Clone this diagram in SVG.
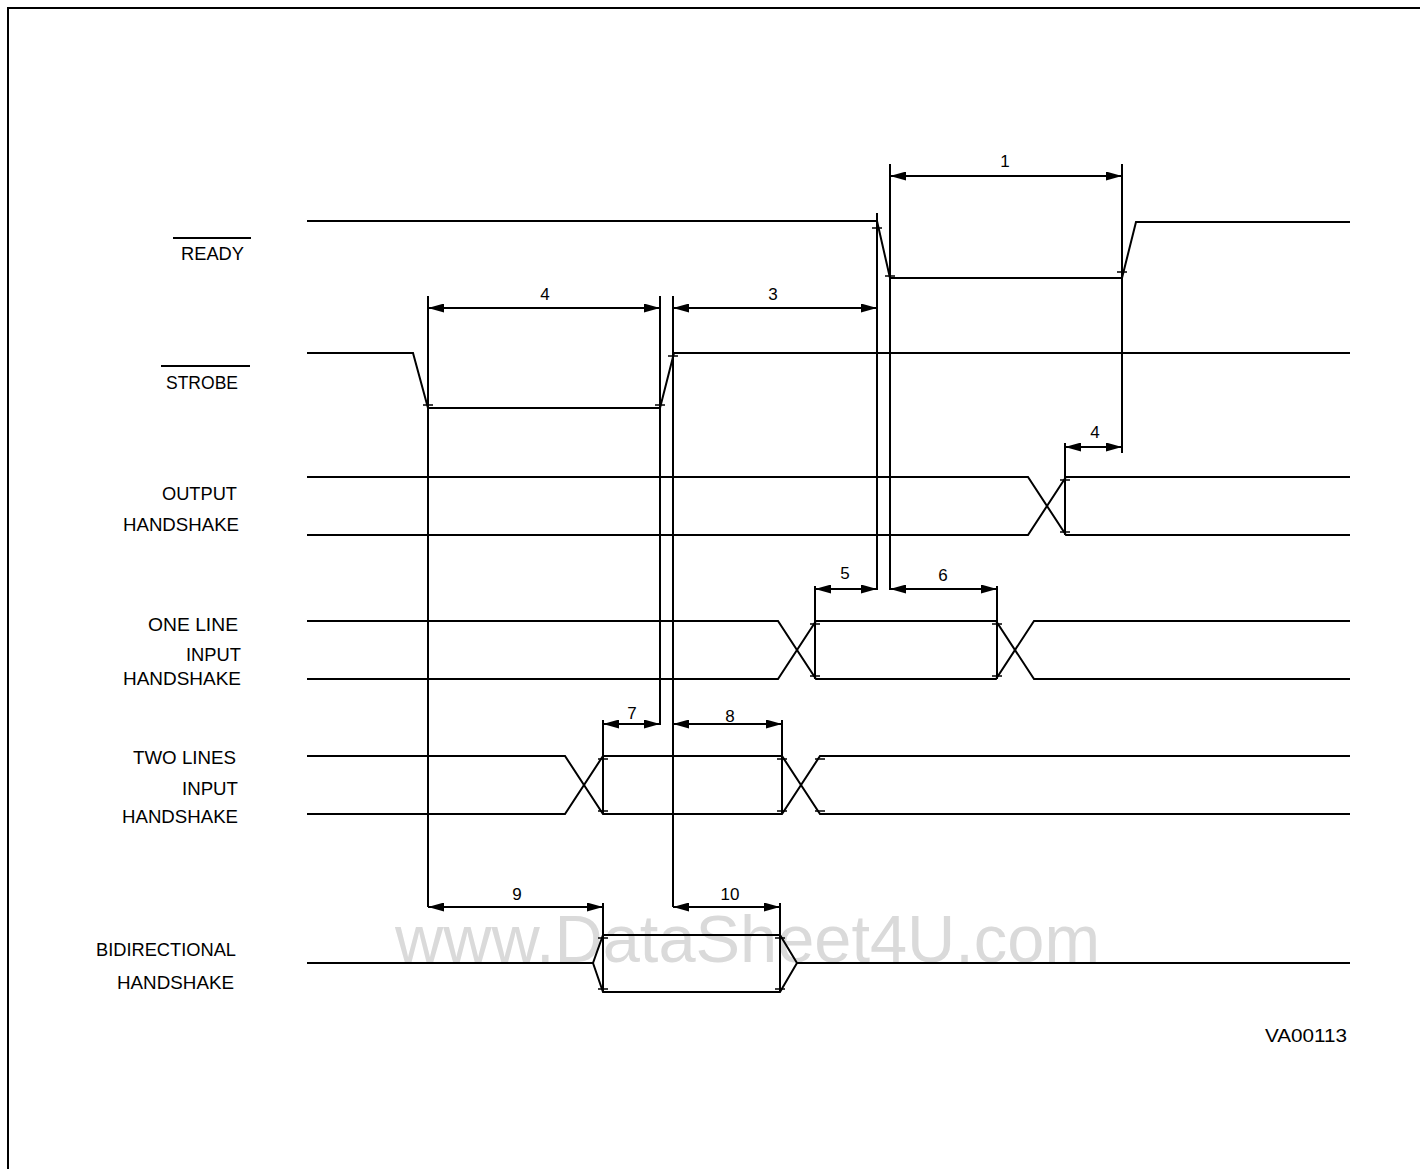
<svg xmlns="http://www.w3.org/2000/svg" width="1420" height="1169" viewBox="0 0 1420 1169">
<style>
.sig{fill:none;stroke:#000;stroke-width:2;stroke-linejoin:miter}
.ext{fill:none;stroke:#000;stroke-width:2}
.dim{fill:none;stroke:#000;stroke-width:2;marker-start:url(#ah);marker-end:url(#ah)}
.tick{fill:none;stroke:#000;stroke-width:1.5}
.lbl{font-family:"Liberation Sans",Arial,sans-serif;font-size:18px;fill:#000;text-anchor:end}
.num{font-family:"Liberation Sans",Arial,sans-serif;font-size:17px;fill:#000;text-anchor:middle}
.wm{font-family:"Liberation Sans",Arial,sans-serif;font-size:66px;fill:#dadada}
</style>
<defs>
<marker id="ah" viewBox="0 0 16 9" refX="16" refY="4.5" markerWidth="16" markerHeight="9" markerUnits="userSpaceOnUse" orient="auto-start-reverse">
<path d="M0,0 L16,4.5 L0,9 z" fill="#000"/>
</marker>
</defs>
<rect width="1420" height="1169" fill="#fff"/>
<g id="frame">
<path d="M8,1169 V8 H1420" fill="none" stroke="#000" stroke-width="2"/>
</g>
<text class="wm" x="395" y="962" textLength="705" lengthAdjust="spacingAndGlyphs">www.DataSheet4U.com</text>

<g id="ready">
<text class="lbl" x="244" y="260" textLength="63" lengthAdjust="spacingAndGlyphs">READY</text>
<line x1="173" y1="238" x2="251" y2="238" stroke="#000" stroke-width="2"/>
<path class="sig" d="M307,221 H877 L890,278 H1122 L1136,222 H1350"/>
</g>
<g id="strobe">
<text class="lbl" x="238" y="389" textLength="72" lengthAdjust="spacingAndGlyphs">STROBE</text>
<line x1="161" y1="366" x2="250" y2="366" stroke="#000" stroke-width="2"/>
<path class="sig" d="M307,353 H413 L428,408 H660 L674,353 H1350"/>
</g>
<g id="output-handshake">
<text class="lbl" x="237" y="500" textLength="75" lengthAdjust="spacingAndGlyphs">OUTPUT</text>
<text class="lbl" x="239" y="531" textLength="116" lengthAdjust="spacingAndGlyphs">HANDSHAKE</text>
<path class="sig" d="M307,477 H1028 L1066,535 H1350"/>
<path class="sig" d="M307,535 H1028 L1066,477 H1350"/>
</g>
<g id="one-line-input-handshake">
<text class="lbl" x="238" y="631" textLength="90" lengthAdjust="spacingAndGlyphs">ONE LINE</text>
<text class="lbl" x="241" y="661" textLength="55" lengthAdjust="spacingAndGlyphs">INPUT</text>
<text class="lbl" x="241" y="685" textLength="118" lengthAdjust="spacingAndGlyphs">HANDSHAKE</text>
<path class="sig" d="M307,621 H778 L816,679 H996 L1034,621 H1350"/>
<path class="sig" d="M307,679 H778 L816,621 H996 L1034,679 H1350"/>
</g>
<g id="two-lines-input-handshake">
<text class="lbl" x="236" y="764" textLength="103" lengthAdjust="spacingAndGlyphs">TWO LINES</text>
<text class="lbl" x="238" y="795" textLength="56" lengthAdjust="spacingAndGlyphs">INPUT</text>
<text class="lbl" x="238" y="823" textLength="116" lengthAdjust="spacingAndGlyphs">HANDSHAKE</text>
<path class="sig" d="M307,756 H565 L603,814 H782 L820,756 H1350"/>
<path class="sig" d="M307,814 H565 L603,756 H782 L820,814 H1350"/>
</g>
<g id="bidirectional-handshake">
<text class="lbl" x="236" y="956" textLength="140" lengthAdjust="spacingAndGlyphs">BIDIRECTIONAL</text>
<text class="lbl" x="234" y="989" textLength="117" lengthAdjust="spacingAndGlyphs">HANDSHAKE</text>
<path class="sig" d="M307,963 H593 L603,935 H780 L797,963 H1350"/>
<path class="sig" d="M593,963 L603,992 H780 L797,963"/>
</g>
<g id="ref">
<text class="lbl" x="1347" y="1042" textLength="82" lengthAdjust="spacingAndGlyphs">VA00113</text>
</g>

<g id="connectors">
<g id="extension-lines">
<line class="ext" x1="877" y1="213" x2="877" y2="590"/>
<line class="ext" x1="890" y1="164" x2="890" y2="590"/>
<line class="ext" x1="1122" y1="164" x2="1122" y2="453"/>
<line class="ext" x1="428" y1="296" x2="428" y2="907"/>
<line class="ext" x1="660" y1="296" x2="660" y2="725"/>
<line class="ext" x1="673" y1="296" x2="673" y2="907"/>
<line class="ext" x1="1065" y1="443" x2="1065" y2="535"/>
<line class="ext" x1="815" y1="586" x2="815" y2="679"/>
<line class="ext" x1="997" y1="586" x2="997" y2="679"/>
<line class="ext" x1="603" y1="720" x2="603" y2="814"/>
<line class="ext" x1="782" y1="720" x2="782" y2="814"/>
<line class="ext" x1="603" y1="903" x2="603" y2="992"/>
<line class="ext" x1="780" y1="903" x2="780" y2="992"/>
</g>
<g id="dimensions">
<line class="dim" x1="890" y1="176" x2="1122" y2="176"/>
<line class="dim" x1="428" y1="308" x2="660" y2="308"/>
<line class="dim" x1="673" y1="308" x2="877" y2="308"/>
<line class="dim" x1="1065" y1="447" x2="1122" y2="447"/>
<line class="dim" x1="815" y1="589" x2="877" y2="589"/>
<line class="dim" x1="890" y1="589" x2="997" y2="589"/>
<line class="dim" x1="603" y1="724" x2="660" y2="724"/>
<line class="dim" x1="673" y1="724" x2="782" y2="724"/>
<line class="dim" x1="428" y1="907" x2="603" y2="907"/>
<line class="dim" x1="673" y1="907" x2="780" y2="907"/>
</g>
<g id="dimension-labels">
<text class="num" x="1005" y="167">1</text>
<text class="num" x="545" y="300">4</text>
<text class="num" x="773" y="300">3</text>
<text class="num" x="1095" y="438">4</text>
<text class="num" x="845" y="579">5</text>
<text class="num" x="943" y="581">6</text>
<text class="num" x="632" y="719">7</text>
<text class="num" x="730" y="722">8</text>
<text class="num" x="517" y="900">9</text>
<text class="num" x="730" y="900">10</text>
</g>
<g id="ticks">
<path class="tick" d="M872,228 H882 M885,276 H895 M1117,272 H1127 M423,405 H433 M655,405 H665 M668,356 H678 M1060,480 H1070 M1060,532 H1070 M810,624 H820 M810,676 H820 M992,624 H1002 M992,676 H1002 M598,759 H608 M598,811 H608 M777,759 H787 M777,811 H787 M815,759 H825 M815,811 H825 M598,938 H608 M598,989 H608 M775,938 H785 M775,989 H785"/>
</g>
</g>
</svg>
